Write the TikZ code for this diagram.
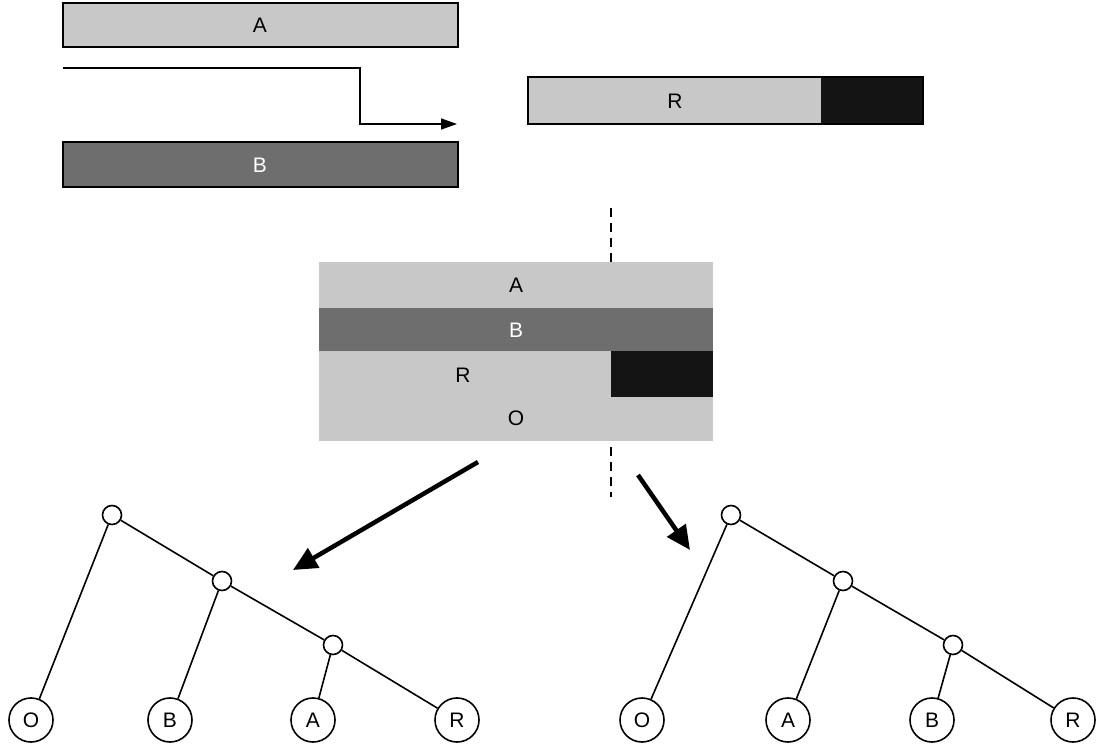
\documentclass[tikz,border=0pt]{standalone}
\usepackage{fontspec}
\setmainfont{Liberation Sans}
\usetikzlibrary{arrows.meta}
\definecolor{lg}{HTML}{C8C8C8}
\definecolor{dg}{HTML}{6E6E6E}
\definecolor{bk}{HTML}{141414}
\begin{document}
\begin{tikzpicture}[x=1pt,y=-1pt,line width=1.6pt,
  lbl/.style={font=\fontsize{21}{24}\selectfont},
  small/.style={circle,draw,fill=white,minimum size=19pt,inner sep=0pt},
  leaf/.style={circle,draw,fill=white,minimum size=44pt,inner sep=0pt,font=\fontsize{21}{24}\selectfont},
  big/.style={line width=4.5pt,-{Triangle[length=24pt,width=22pt]}}]
\useasboundingbox (0,0) rectangle (1104,754);
% top bars
\filldraw[fill=lg] (63,3) rectangle (458,47);
\node[lbl] (ta) at (260,25) {A};
\filldraw[fill=dg] (63,142) rectangle (458,187);
\node[lbl,text=white] (tb) at (260,165) {B};
\fill[lg] (528,77) rectangle (821,124);
\fill[bk] (821,77) rectangle (923,124);
\draw (528,77) rectangle (923,124);
\node[lbl] (tr) at (675,101) {R};
\coordinate (s) at (63,68);
\coordinate (e) at (457,124);
\draw[-{Triangle[length=16pt,width=11pt]}] (s) -- (360,68) -- (360,124) -- (e);
% middle box
\fill[lg] (319,262) rectangle (713,441);
\fill[dg] (319,308) rectangle (713,351);
\fill[bk] (611,351) rectangle (713,397);
\node[lbl] (ma) at (516,285) {A};
\node[lbl,text=white] (mb) at (516,330) {B};
\node[lbl] (mr) at (463,375) {R};
\node[lbl] (mo) at (516,418) {O};
\draw[dashed,dash pattern=on 9pt off 6pt] (611,208) -- (611,262);
\draw[dashed,dash pattern=on 9pt off 6pt] (611,447) -- (611,497);
% big arrows
\coordinate (a1s) at (478,462); \coordinate (a1e) at (293,570);
\coordinate (a2s) at (638,475); \coordinate (a2e) at (690,550);
\draw[big] (a1s) -- (a1e);
\draw[big] (a2s) -- (a2e);
% left tree
\node[small] (l1) at (112,515) {};
\node[small] (l2) at (222,581) {};
\node[small] (l3) at (333,645) {};
\node[leaf] (lo) at (31,720) {O};
\node[leaf] (lb) at (170,720) {B};
\node[leaf] (la) at (313,720) {A};
\node[leaf] (lr) at (457,720) {R};
\draw (l1)--(lo) (l1)--(l2) (l2)--(lb) (l2)--(l3) (l3)--(la) (l3)--(lr);
% right tree
\node[small] (r1) at (731,515) {};
\node[small] (r2) at (843,581) {};
\node[small] (r3) at (953,645) {};
\node[leaf] (ro) at (642,720) {O};
\node[leaf] (ra) at (788,720) {A};
\node[leaf] (rb) at (932,720) {B};
\node[leaf] (rr) at (1073,720) {R};
\draw (r1)--(ro) (r1)--(r2) (r2)--(ra) (r2)--(r3) (r3)--(rb) (r3)--(rr);
\end{tikzpicture}
\end{document}
